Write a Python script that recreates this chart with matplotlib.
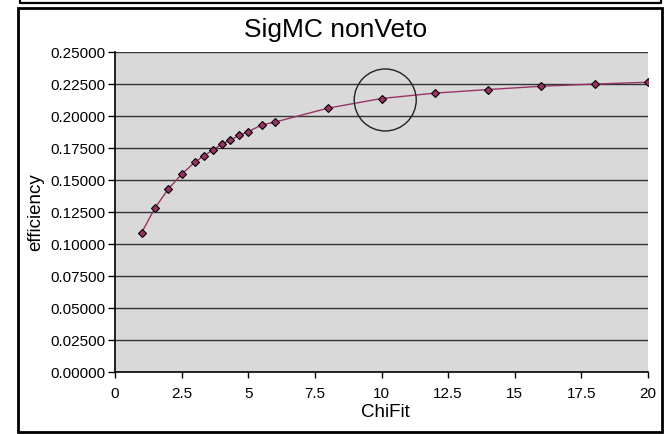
import matplotlib
import matplotlib.pyplot as plt
from matplotlib.patches import Ellipse, Rectangle
from matplotlib.lines import Line2D
from matplotlib.ticker import FormatStrFormatter

matplotlib.use('Agg')

plt.rcParams['font.family'] = ['Liberation Sans', 'DejaVu Sans']

chifit = [1, 1.5, 2, 2.5, 3, 3.333, 3.667, 4, 4.333, 4.667, 5, 5.5, 6,
          8, 10, 12, 14, 16, 18, 20]
efficiency = [0.1091, 0.1284, 0.1432, 0.1547, 0.1643, 0.1690, 0.1737,
              0.1781, 0.1815, 0.1852, 0.1880, 0.1932, 0.1955,
              0.2064, 0.2139, 0.2181, 0.2209, 0.2235, 0.2252, 0.2266]

x_ticks = [0, 2.5, 5, 7.5, 10, 12.5, 15, 17.5, 20]
x_tick_labels = ['0', '2.5', '5', '7.5', '10', '12.5', '15', '17.5', '20']
y_ticks = [0.0, 0.025, 0.05, 0.075, 0.1, 0.125, 0.15, 0.175, 0.2, 0.225, 0.25]

W, H = 668, 434


def frames(fig):
    # outer chart border
    fig.add_artist(Rectangle((18 / W, 2 / H), 644 / W, 424 / H,
                             transform=fig.transFigure, fill=False,
                             edgecolor='black', linewidth=2.0))
    # bottom edge of the chart sitting above this one
    ys = 1 - 3 / H
    fig.add_artist(Line2D([20 / W, 20 / W, 661 / W, 661 / W], [1.01, ys, ys, 1.01],
                          transform=fig.transFigure, color='black', linewidth=1.6))


def efficiency_graph(ax):
    ax.set_facecolor('#D9D9D9')
    for y in y_ticks[1:]:
        ax.axhline(y, color='#333333', linewidth=1.0, zorder=1)
    ax.plot(chifit, efficiency, color='#993366', linewidth=1.0, zorder=2)
    ax.plot(chifit, efficiency, linestyle='none', marker='D', markersize=4,
            markerfacecolor='#993366', markeredgecolor='black',
            markeredgewidth=0.8, zorder=3)
    # circle drawn around the ChiFit = 10 point
    ax.add_patch(Ellipse((0.507, 0.851), 62 / 533, 62 / 320,
                         transform=ax.transAxes, fill=False,
                         edgecolor='#222222', linewidth=1.0, zorder=4))

    ax.set_xlim(0, 20)
    ax.set_ylim(0, 0.25)
    ax.set_xticks(x_ticks)
    ax.set_xticklabels(x_tick_labels)
    ax.set_yticks(y_ticks)
    ax.yaxis.set_major_formatter(FormatStrFormatter('%.5f'))
    ax.tick_params(axis='both', labelsize=11, direction='out', width=1.0)
    ax.tick_params(axis='y', length=5, pad=2)
    ax.tick_params(axis='x', length=4.5, pad=6)

    for s in ['top', 'right']:
        ax.spines[s].set_visible(False)
    for s in ['left', 'bottom']:
        ax.spines[s].set_linewidth(1.2)
        ax.spines[s].set_color('black')

    ax.set_xlabel('ChiFit', fontsize=13.5)
    ax.set_ylabel('efficiency', fontsize=13.5)
    ax.xaxis.set_label_coords(0.507, -0.1)
    ax.yaxis.set_label_coords(-0.133, 0.5)


fig = plt.figure(figsize=(W / 100, H / 100), dpi=100)
ax = fig.add_axes([115 / W, 1 - 372.3 / H, 533 / W, 320 / H])
efficiency_graph(ax)
fig.text(335.7 / W, 1 - 30.5 / H, 'SigMC nonVeto', fontsize=19,
         ha='center', va='center')
frames(fig)
fig.savefig('out.png', dpi=100)
